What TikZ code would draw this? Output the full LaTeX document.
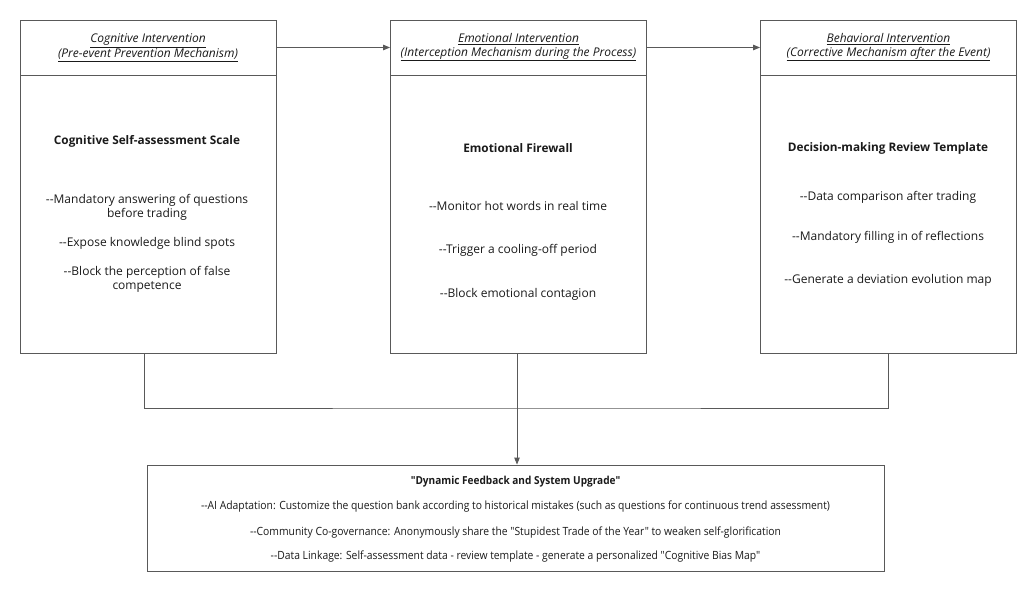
\documentclass[tikz,border=0pt]{standalone}
\usepackage{fontspec}
\setmainfont{Open Sans}
\newfontfamily\narrowfont[FakeStretch=0.915]{Open Sans}
\usetikzlibrary{arrows.meta}
\definecolor{linec}{HTML}{595959}
\definecolor{txtc}{HTML}{1A1A1A}
\tikzset{
  every node/.style={text=txtc, inner sep=0pt},
  hdr/.style={draw=linec, line width=0.9pt, minimum width=256pt, minimum height=55pt},
  bodybox/.style={draw=linec, line width=0.9pt, minimum width=256pt, minimum height=278pt},
  hdrtext/.style={font=\fontsize{12}{13.5}\selectfont\itshape, align=center},
  ttl/.style={font=\fontsize{11.8}{14}\selectfont\bfseries, align=center},
  bul/.style={font=\fontsize{12}{14}\selectfont, align=center},
  fbbox/.style={draw=linec, line width=0.9pt, minimum width=737pt, minimum height=106pt},
  fbt/.style={font=\narrowfont\fontsize{11.3}{13}\selectfont},
  conn/.style={draw=linec, line width=0.9pt},
  arr/.style={conn, -{Triangle[length=7pt,width=5.5pt]}},
}
\begin{document}
\begin{tikzpicture}[x=1pt,y=-1pt]
\useasboundingbox (0,0) rectangle (1035,591);
% headers
\node[hdr] (h1) at (148,47.5) {};
\node[hdr] (h2) at (518.5,47.5) {};
\node[hdr] (h3) at (888.5,47.5) {};
\node[hdrtext] (ht1) at (148,47.5) {\underline{Cognitive Intervention}\\\underline{(Pre-event Prevention Mechanism)}};
\node[hdrtext] (ht2) at (518.5,47.5) {\underline{Emotional Intervention}\\\underline{(Interception Mechanism during the Process)}};
\node[hdrtext] (ht3) at (888.5,47.5) {\underline{Behavioral Intervention}\\\underline{(Corrective Mechanism after the Event)}};
% bodies
\node[bodybox] (b1) at (148,214) {};
\node[bodybox] (b2) at (518.5,214) {};
\node[bodybox] (b3) at (888.5,214) {};
% box 1 text
\node[ttl] (t1) at (147,141) {Cognitive Self-assessment Scale};
\node[bul] (t1a) at (147,207) {-{}-Mandatory answering of questions\\before trading};
\node[bul] (t1b) at (147,243) {-{}-Expose knowledge blind spots};
\node[bul] (t1c) at (147,279.5) {-{}-Block the perception of false\\competence};
% box 2 text
\node[ttl] (t2) at (518,148) {Emotional Firewall};
\node[bul] (t2a) at (518,206) {-{}-Monitor hot words in real time};
\node[bul] (t2b) at (518,250) {-{}-Trigger a cooling-off period};
\node[bul] (t2c) at (518,294) {-{}-Block emotional contagion};
% box 3 text
\node[ttl] (t3) at (888,148) {Decision-making Review Template};
\node[bul] (t3a) at (888,197) {-{}-Data comparison after trading};
\node[bul] (t3b) at (888,237) {-{}-Mandatory filling in of reflections};
\node[bul] (t3c) at (888,280) {-{}-Generate a deviation evolution map};
% feedback box
\node[fbbox] (fb) at (515.5,518) {};
\node[fbt, font=\narrowfont\fontsize{11}{13}\selectfont\bfseries] (f0) at (515.5,482) {"Dynamic Feedback and System Upgrade"};
\node[fbt] (f1) at (515.5,507) {-{}-AI Adaptation: Customize the question bank according to historical mistakes (such as questions for continuous trend assessment)};
\node[fbt] (f2) at (515.5,532.5) {-{}-Community Co-governance: Anonymously share the "Stupidest Trade of the Year" to weaken self-glorification};
\node[fbt] (f3) at (515.5,557) {-{}-Data Linkage: Self-assessment data - review template - generate a personalized "Cognitive Bias Map"};
% connectors
\draw[arr] (h1.east) -- (h2.west);
\draw[arr] (h2.east) -- (h3.west);
\coordinate (j) at (517,408);
\draw[conn] ([xshift=-4pt]b1.south) |- (j) -| (b3.south);
\draw[arr] ([xshift=-1.5pt]b2.south) -- ([xshift=-1.5pt]b2.south |- fb.north);
\end{tikzpicture}
\end{document}
